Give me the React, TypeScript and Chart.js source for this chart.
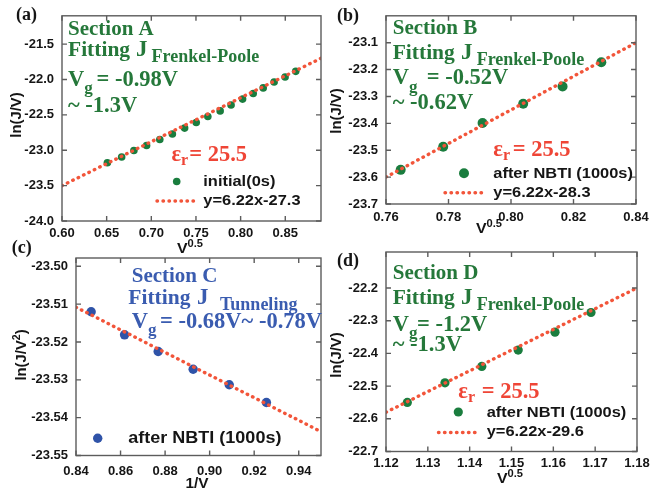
import React, { useEffect, useRef } from 'react';
import { Chart, registerables } from 'chart.js';
Chart.register(...registerables);

const W = 661;
const H = 491;
const GREEN_TEXT = '#25783a';
const GREEN_DOT = '#1a7d3e';
const BLUE_TEXT = '#3a5cb0';
const BLUE_DOT = '#2f53a8';
const RED_TEXT = '#ef4536';
const RED_LINE = '#f2553a';
const AXIS = '#5c5c5c';
const INK = '#151515';

// ---- Panel (a): Section A, initial (0s)
const xA = [0.6508, 0.6668, 0.6805, 0.6947, 0.7095, 0.7236, 0.7373, 0.7503, 0.7633, 0.7771, 0.7893, 0.8022, 0.8141, 0.8253, 0.8375, 0.8498, 0.8617];
const yA = [-23.176, -23.096, -23.003, -22.933, -22.849, -22.771, -22.687, -22.608, -22.524, -22.444, -22.36, -22.277, -22.198, -22.119, -22.035, -21.965, -21.885];
const fitXA = [0.6, 0.89];
const fitYA = [-23.5, -21.7];
const ticksAX = [0.6, 0.65, 0.7, 0.75, 0.8, 0.85];
const ticksAY = [-24.0, -23.5, -23.0, -22.5, -22.0, -21.5];

// ---- Panel (b): Section B, after NBTI
const xB = [0.7647, 0.7783, 0.7909, 0.8039, 0.8165, 0.8289];
const yB = [-23.573, -23.487, -23.399, -23.327, -23.263, -23.173];
const fitXB = [0.76, 0.84];
const fitYB = [-23.6, -23.1];
const ticksBX = [0.76, 0.78, 0.8, 0.82, 0.84];
const ticksBY = [-23.7, -23.6, -23.5, -23.4, -23.3, -23.2, -23.1];

// ---- Panel (c): Section C, tunneling
const xC = [0.8468, 0.8618, 0.8769, 0.8926, 0.9088, 0.9255];
const yC = [-23.512, -23.5181, -23.5225, -23.5272, -23.5313, -23.536];
const fitXC = [0.84, 0.95];
const fitYC = [-23.5108, -23.5437];
const ticksCX = [0.84, 0.86, 0.88, 0.9, 0.92, 0.94];
const ticksCY = [-23.55, -23.54, -23.53, -23.52, -23.51, -23.5];

// ---- Panel (d): Section D, after NBTI
const xD = [1.1251, 1.1341, 1.1429, 1.1516, 1.1604, 1.169];
const yD = [-22.55, -22.49, -22.44, -22.39, -22.335, -22.275];
const fitXD = [1.12, 1.18];
const fitYD = [-22.58, -22.2];
const ticksDX = [1.12, 1.13, 1.14, 1.15, 1.16, 1.17, 1.18];
const ticksDY = [-22.7, -22.6, -22.5, -22.4, -22.3, -22.2];

// ---- font handling: pick an installed face and scale it to Times / Arial metrics
function pickFont(cands: string[], fallback: string) {
  const c = document.createElement('canvas').getContext('2d')!;
  const probe = 'Section ABCxyz 0123 mwil';
  for (const name of cands) {
    let differs = false;
    for (const base of ['monospace', 'sans-serif', 'serif']) {
      c.font = `bold 40px ${base}`;
      const w1 = c.measureText(probe).width;
      c.font = `bold 40px "${name}", ${base}`;
      const w2 = c.measureText(probe).width;
      if (Math.abs(w1 - w2) > 0.01) differs = true;
    }
    if (differs) return `"${name}", ${fallback}`;
  }
  return fallback;
}
const SERIF = pickFont(['Liberation Serif', 'Tinos', 'Times New Roman', 'Nimbus Roman', 'FreeSerif', 'Noto Serif', 'DejaVu Serif'], 'serif');
const SANS = pickFont(['Liberation Sans', 'Arimo', 'Arial', 'Helvetica', 'Nimbus Sans', 'Roboto', 'DejaVu Sans'], 'sans-serif');

function metricScale(family: string, text: string, expected: number) {
  const c = document.createElement('canvas').getContext('2d')!;
  c.font = `bold 100px ${family}`;
  const w = c.measureText(text).width;
  if (!w) return 1;
  return Math.min(1.25, Math.max(0.6, expected / w));
}
// Times New Roman Bold width of "Section A" at 100px ~ 408; Arial Bold "after NBTI (1000s)" ~ 900
const SERIF_SX = metricScale(SERIF, 'Section A', 408.3);
const SANS_SX = metricScale(SANS, 'after NBTI (1000s)', 900.6);

type Part = { t: string; s: number; dy?: number; x?: number };

function drawRich(ctx: CanvasRenderingContext2D, x: number, y: number, parts: Part[], color: string, family: string) {
  const sx = family === SERIF ? SERIF_SX : SANS_SX;
  ctx.save();
  ctx.fillStyle = color;
  ctx.textBaseline = 'middle';
  ctx.textAlign = 'left';
  let cx = x;
  for (const p of parts) {
    if (p.x !== undefined) cx = p.x;
    ctx.font = `bold ${p.s}px ${family}`;
    ctx.save();
    ctx.translate(cx, y + (p.dy || 0));
    ctx.scale(sx, 1);
    ctx.fillText(p.t, 0, 0);
    ctx.restore();
    cx += ctx.measureText(p.t).width * sx;
  }
  ctx.restore();
}

function richWidth(ctx: CanvasRenderingContext2D, parts: Part[], family: string) {
  const sx = family === SERIF ? SERIF_SX : SANS_SX;
  let w = 0;
  ctx.save();
  for (const p of parts) {
    ctx.font = `bold ${p.s}px ${family}`;
    w += ctx.measureText(p.t).width * sx;
  }
  ctx.restore();
  return w;
}

function drawCentered(ctx: CanvasRenderingContext2D, cx: number, cy: number, parts: Part[], color: string, family: string, rotate: boolean) {
  const w = richWidth(ctx, parts, family);
  ctx.save();
  ctx.translate(cx, cy);
  if (rotate) ctx.rotate(-Math.PI / 2);
  drawRich(ctx, -w / 2, 0, parts, color, family);
  ctx.restore();
}

function dot(ctx: CanvasRenderingContext2D, x: number, y: number, r: number, color: string) {
  ctx.save();
  ctx.fillStyle = color;
  ctx.beginPath();
  ctx.arc(x, y, r, 0, Math.PI * 2);
  ctx.fill();
  ctx.restore();
}

function dottedLine(ctx: CanvasRenderingContext2D, x1: number, x2: number, y: number) {
  ctx.save();
  ctx.strokeStyle = RED_LINE;
  ctx.lineWidth = 3.4;
  ctx.lineCap = 'round';
  ctx.setLineDash([0.5, 5.5]);
  ctx.beginPath();
  ctx.moveTo(x1, y);
  ctx.lineTo(x2, y);
  ctx.stroke();
  ctx.restore();
}

type PanelCfg = {
  L: number; T: number; R: number; B: number;
  xMin: number; xMax: number; yMin: number; yMax: number;
  xTicks: number[]; yTicks: number[]; xDec: number; yDec: number; xPad: number;
  xs: number[]; ys: number[]; fx: number[]; fy: number[];
  dotColor: string; dotR: number;
  annotate: (ctx: CanvasRenderingContext2D) => void;
};

const YW = 50;
const XH = 24;

const panels: PanelCfg[] = [
  {
    L: 62, T: 13, R: 321, B: 221,
    xMin: 0.6, xMax: 0.89, yMin: -24.0, yMax: -21.1,
    xTicks: ticksAX, yTicks: ticksAY, xDec: 2, yDec: 1, xPad: 5,
    xs: xA, ys: yA, fx: fitXA, fy: fitYA, dotColor: GREEN_DOT, dotR: 3.8,
    annotate: (ctx) => {
      drawRich(ctx, 16, 15, [{ t: '(a)', s: 18 }], INK, SERIF);
      drawRich(ctx, 68, 29.5, [{ t: 'Section A', s: 21 }], GREEN_TEXT, SERIF);
      drawRich(ctx, 68, 50, [{ t: 'Fitting', s: 21.5 }, { t: 'J', s: 23, x: 136 }, { t: 'Frenkel-Poole', s: 18, dy: 7, x: 151.5 }], GREEN_TEXT, SERIF);
      drawRich(ctx, 68, 80, [{ t: 'V', s: 22.5 }, { t: 'g', s: 17, dy: 9 }, { t: '= -0.98V', s: 22.5, x: 96.5 }], GREEN_TEXT, SERIF);
      drawRich(ctx, 68, 106.5, [{ t: '~ -1.3V', s: 22.5 }], GREEN_TEXT, SERIF);
      drawRich(ctx, 171.5, 155, [{ t: 'ε', s: 22.5 }, { t: 'r', s: 16, dy: 6 }, { t: '= 25.5', s: 22.5, x: 189.3 }], RED_TEXT, SERIF);
      dot(ctx, 176.7, 181.5, 3.8, GREEN_DOT);
      drawRich(ctx, 203.3, 182, [{ t: 'initial(0s)', s: 15.5 }], INK, SANS);
      dottedLine(ctx, 157, 197, 201);
      drawRich(ctx, 203.3, 201, [{ t: 'y=6.22x-27.3', s: 15.5 }], INK, SANS);
      drawCentered(ctx, 17, 115, [{ t: 'ln(J/V)', s: 14 }], INK, SANS, true);
      drawCentered(ctx, 190, 249, [{ t: 'V', s: 15 }, { t: '0.5', s: 10.5, dy: -5 }], INK, SANS, false);
    },
  },
  {
    L: 386, T: 13, R: 636, B: 204,
    xMin: 0.76, xMax: 0.84, yMin: -23.7, yMax: -23.0,
    xTicks: ticksBX, yTicks: ticksBY, xDec: 2, yDec: 1, xPad: 6,
    xs: xB, ys: yB, fx: fitXB, fy: fitYB, dotColor: GREEN_DOT, dotR: 5,
    annotate: (ctx) => {
      drawRich(ctx, 337, 16.5, [{ t: '(b)', s: 18 }], INK, SERIF);
      drawRich(ctx, 392.7, 28.5, [{ t: 'Section B', s: 21 }], GREEN_TEXT, SERIF);
      drawRich(ctx, 392.7, 53.3, [{ t: 'Fitting', s: 21.5 }, { t: 'J', s: 23, x: 461 }, { t: 'Frenkel-Poole', s: 18, dy: 7, x: 476.7 }], GREEN_TEXT, SERIF);
      drawRich(ctx, 392.7, 78.3, [{ t: 'V', s: 22.5 }, { t: 'g', s: 17, dy: 9 }, { t: '= -0.52V', s: 22.5, x: 426.7 }], GREEN_TEXT, SERIF);
      drawRich(ctx, 392.7, 103.3, [{ t: '~ -0.62V', s: 22.5 }], GREEN_TEXT, SERIF);
      drawRich(ctx, 493.3, 150, [{ t: 'ε', s: 22.5 }, { t: 'r', s: 16, dy: 6 }, { t: '= 25.5', s: 22.5, x: 512.7 }], RED_TEXT, SERIF);
      dot(ctx, 464, 173.3, 5, GREEN_DOT);
      drawRich(ctx, 493.3, 173.5, [{ t: 'after NBTI (1000s)', s: 15.5 }], INK, SANS);
      dottedLine(ctx, 445, 487, 192.7);
      drawRich(ctx, 493.3, 192.7, [{ t: 'y=6.22x-28.3', s: 15.5 }], INK, SANS);
      drawCentered(ctx, 337, 111, [{ t: 'ln(J/V)', s: 14 }], INK, SANS, true);
      drawCentered(ctx, 489, 229, [{ t: 'V', s: 15 }, { t: '0.5', s: 10.5, dy: -5 }], INK, SANS, false);
    },
  },
  {
    L: 76, T: 258, R: 321, B: 455.5,
    xMin: 0.84, xMax: 0.95, yMin: -23.55, yMax: -23.4978,
    xTicks: ticksCX, yTicks: ticksCY, xDec: 2, yDec: 2, xPad: 8,
    xs: xC, ys: yC, fx: fitXC, fy: fitYC, dotColor: BLUE_DOT, dotR: 4.7,
    annotate: (ctx) => {
      drawRich(ctx, 11.7, 248.3, [{ t: '(c)', s: 18 }], INK, SERIF);
      drawRich(ctx, 131.7, 276.7, [{ t: 'Section C', s: 21 }], BLUE_TEXT, SERIF);
      drawRich(ctx, 128.3, 298.3, [{ t: 'Fitting', s: 21.5 }, { t: 'J', s: 23, x: 197 }, { t: 'Tunneling', s: 18, dy: 7, x: 220 }], BLUE_TEXT, SERIF);
      drawRich(ctx, 131.7, 321.7, [{ t: 'V', s: 22.5 }, { t: 'g', s: 17, dy: 9 }, { t: '= -0.68V~ -0.78V', s: 22.5, x: 160 }], BLUE_TEXT, SERIF);
      dot(ctx, 97.7, 438.3, 4.7, BLUE_DOT);
      drawRich(ctx, 128.3, 438.5, [{ t: 'after NBTI (1000s)', s: 17 }], INK, SANS);
      drawCentered(ctx, 22, 355, [{ t: 'ln(J/V', s: 14 }, { t: '2', s: 10, dy: -5 }, { t: ')', s: 14 }], INK, SANS, true);
      drawCentered(ctx, 197, 484, [{ t: '1/V', s: 14.5 }], INK, SANS, false);
    },
  },
  {
    L: 386, T: 252, R: 637, B: 451.5,
    xMin: 1.12, xMax: 1.18, yMin: -22.7, yMax: -22.09,
    xTicks: ticksDX, yTicks: ticksDY, xDec: 2, yDec: 1, xPad: 4,
    xs: xD, ys: yD, fx: fitXD, fy: fitYD, dotColor: GREEN_DOT, dotR: 4.6,
    annotate: (ctx) => {
      drawRich(ctx, 337, 261, [{ t: '(d)', s: 18 }], INK, SERIF);
      drawRich(ctx, 392.7, 273.3, [{ t: 'Section D', s: 21 }], GREEN_TEXT, SERIF);
      drawRich(ctx, 392.7, 298.3, [{ t: 'Fitting', s: 21.5 }, { t: 'J', s: 23, x: 461 }, { t: 'Frenkel-Poole', s: 18, dy: 7, x: 476.7 }], GREEN_TEXT, SERIF);
      drawRich(ctx, 392.7, 325, [{ t: 'V', s: 22.5 }, { t: 'g', s: 17, dy: 9 }, { t: '= -1.2V', s: 22.5, x: 417 }], GREEN_TEXT, SERIF);
      drawRich(ctx, 392.7, 345.5, [{ t: '~ -1.3V', s: 22.5 }], GREEN_TEXT, SERIF);
      drawRich(ctx, 458.3, 391.7, [{ t: 'ε', s: 22.5 }, { t: 'r', s: 16, dy: 6 }, { t: '= 25.5', s: 22.5, x: 481.7 }], RED_TEXT, SERIF);
      dot(ctx, 458.3, 412, 4.6, GREEN_DOT);
      drawRich(ctx, 486.7, 412.3, [{ t: 'after NBTI (1000s)', s: 15.5 }], INK, SANS);
      dottedLine(ctx, 438.5, 477, 432.5);
      drawRich(ctx, 486.7, 432, [{ t: 'y=6.22x-29.6', s: 15.5 }], INK, SANS);
      drawCentered(ctx, 337, 355, [{ t: 'ln(J/V)', s: 14 }], INK, SANS, true);
      drawCentered(ctx, 510, 479, [{ t: 'V', s: 15 }, { t: '0.5', s: 10.5, dy: -5 }], INK, SANS, false);
    },
  },
];

function Panel({ cfg }: { cfg: PanelCfg }) {
  const ref = useRef<HTMLCanvasElement>(null);
  useEffect(() => {
    if (!ref.current) return;
    const tickFont = { family: SANS, size: 13, weight: 'bold' as const };
    const framePlugin = {
      id: 'frameAndText',
      afterDraw(chart: any) {
        const ctx: CanvasRenderingContext2D = chart.ctx;
        const a = chart.chartArea;
        const xs = chart.scales.x;
        const ys = chart.scales.y;
        ctx.save();
        ctx.strokeStyle = AXIS;
        ctx.lineWidth = 1.4;
        ctx.strokeRect(a.left, a.top, a.right - a.left, a.bottom - a.top);
        ctx.beginPath();
        const tl = 5;
        for (const v of cfg.xTicks) {
          const px = xs.getPixelForValue(v);
          ctx.moveTo(px, a.bottom); ctx.lineTo(px, a.bottom - tl);
          ctx.moveTo(px, a.top); ctx.lineTo(px, a.top + tl);
        }
        for (const v of cfg.yTicks) {
          const py = ys.getPixelForValue(v);
          ctx.moveTo(a.left, py); ctx.lineTo(a.left + tl, py);
          ctx.moveTo(a.right, py); ctx.lineTo(a.right - tl, py);
        }
        ctx.stroke();
        ctx.restore();
        cfg.annotate(ctx);
      },
    };
    const chart = new Chart(ref.current, {
      type: 'scatter',
      data: {
        datasets: [
          {
            label: 'fit',
            data: cfg.fx.map((x, i) => ({ x, y: cfg.fy[i] })),
            showLine: true,
            borderColor: RED_LINE,
            borderWidth: 3.4,
            borderDash: [0.5, 5.5],
            borderCapStyle: 'round',
            pointRadius: 0,
            fill: false,
            order: 0,
          } as any,
          {
            label: 'data',
            data: cfg.xs.map((x, i) => ({ x, y: cfg.ys[i] })),
            backgroundColor: cfg.dotColor,
            borderWidth: 0,
            pointRadius: cfg.dotR,
            order: 1,
          },
        ],
      },
      options: {
        animation: false,
        responsive: false,
        maintainAspectRatio: false,
        devicePixelRatio: 1,
        layout: {
          padding: {
            left: cfg.L - YW,
            top: cfg.T,
            right: W - cfg.R,
            bottom: H - cfg.B - XH,
          },
        },
        plugins: { legend: { display: false }, tooltip: { enabled: false } },
        scales: {
          x: {
            type: 'linear',
            min: cfg.xMin,
            max: cfg.xMax,
            afterBuildTicks: (s: any) => { s.ticks = cfg.xTicks.map((v) => ({ value: v })); },
            afterFit: (s: any) => { s.height = XH; },
            grid: { display: false, drawTicks: false },
            border: { display: false },
            ticks: {
              autoSkip: false, maxRotation: 0, minRotation: 0, padding: cfg.xPad,
              font: tickFont, color: INK,
              callback: (v: any) => Number(v).toFixed(cfg.xDec),
            },
          },
          y: {
            type: 'linear',
            min: cfg.yMin,
            max: cfg.yMax,
            afterBuildTicks: (s: any) => { s.ticks = cfg.yTicks.map((v) => ({ value: v })); },
            afterFit: (s: any) => { s.width = YW; },
            grid: { display: false, drawTicks: false },
            border: { display: false },
            ticks: {
              autoSkip: false, padding: 8,
              font: tickFont, color: INK,
              callback: (v: any) => Number(v).toFixed(cfg.yDec),
            },
          },
        },
      },
      plugins: [framePlugin],
    } as any);
    return () => chart.destroy();
  }, [cfg]);
  return (
    <canvas
      ref={ref}
      width={W}
      height={H}
      style={{ position: 'absolute', left: 0, top: 0, width: W, height: H }}
    />
  );
}

export default function App() {
  return (
    <div style={{ position: 'fixed', left: 0, top: 0, width: W, height: H, background: '#fff', overflow: 'hidden' }}>
      {panels.map((p, i) => (
        <Panel key={i} cfg={p} />
      ))}
    </div>
  );
}
